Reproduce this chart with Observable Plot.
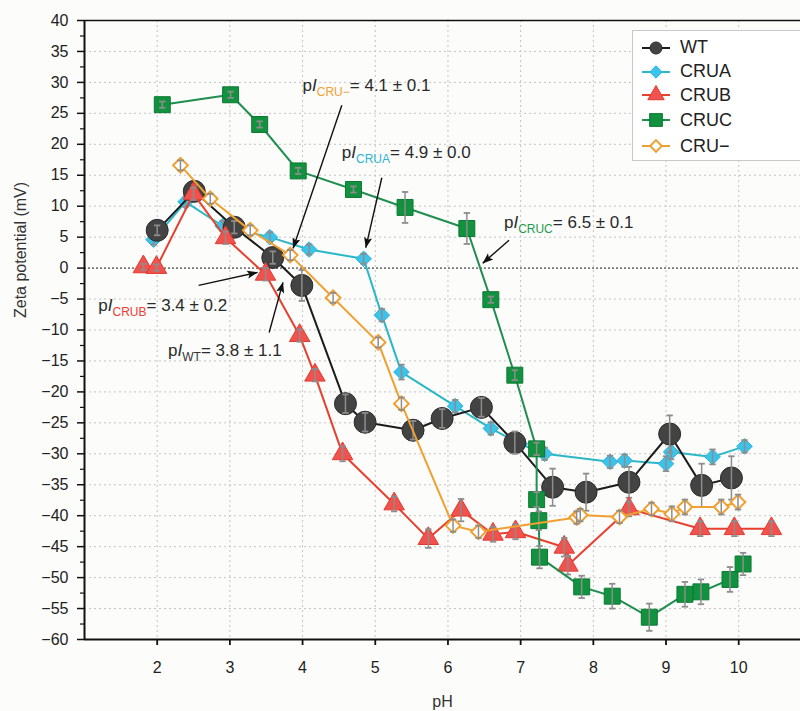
<!DOCTYPE html>
<html>
<head>
<meta charset="utf-8">
<script src="https://cdn.jsdelivr.net/npm/d3@7"></script>
<script src="https://cdn.jsdelivr.net/npm/@observablehq/plot@0.6"></script>
<style>
  body { margin: 0; background: #fcfcfa; font-family: "Liberation Sans", Arial, sans-serif; }
  #wrap { position: relative; width: 800px; height: 711px; overflow: hidden; }
  #legend { position: absolute; left: 632px; top: 30px; width: 190px; height: 131px; border: 1px solid #c8c8c8; background: #fff; box-sizing: border-box; }
  .row { position: absolute; left: 9px; height: 22px; display: flex; align-items: center; }
  .row span { margin-left: 10px; font-size: 18px; color: #222; }
</style>
</head>
<body>
<div id="wrap"><div id="legend"></div></div>
<script>
// ---------- data ----------
const seriesNames = ["WT", "CRUA", "CRUB", "CRUC", "CRU−"];

const wtPH   = [2.00, 2.51, 3.06, 3.59, 3.99, 4.59, 4.86, 5.52, 5.92, 6.46, 6.92, 7.44, 7.90, 8.49, 9.05, 9.49, 9.90];
const wtZeta = [6.1, 12.4, 6.6, 1.7, -2.8, -21.9, -24.9, -26.2, -24.3, -22.5, -28.2, -35.4, -36.2, -34.6, -26.8, -35.1, -33.9];
const wtErr  = [0.8, 1, 1, 1, 2.5, 1.5, 1.5, 1.5, 1.5, 1.5, 1.8, 3, 3, 2.5, 3, 3.5, 3.5];

const cruaPH   = [1.95, 2.39, 2.90, 3.55, 4.09, 4.84, 5.09, 5.36, 6.10, 6.59, 6.99, 7.33, 8.23, 8.43, 9.00, 9.07, 9.64, 10.08];
const cruaZeta = [4.6, 10.7, 6.8, 5.0, 3.0, 1.5, -7.6, -16.8, -22.3, -25.9, -28.4, -30.0, -31.3, -31.1, -31.6, -29.7, -30.5, -28.8];
const cruaErr  = [0.8, 0.8, 0.8, 0.8, 0.8, 0.8, 1, 1.2, 1, 1, 1, 1, 1, 1, 1.2, 1.2, 1.2, 1];

const crubPH   = [1.81, 1.99, 2.50, 2.94, 3.49, 3.96, 4.17, 4.55, 5.26, 5.73, 6.18, 6.62, 6.93, 7.60, 7.65, 8.49, 9.47, 9.94, 10.45];
const crubZeta = [0.2, 0.1, 12.0, 4.9, -1.0, -10.9, -17.3, -30.0, -38.1, -43.7, -39.1, -43.0, -42.6, -45.1, -48.0, -38.9, -42.1, -42.1, -42.1];
const crubErr  = [0.5, 0.5, 1, 1, 1, 1, 1, 1.2, 1.2, 1.5, 1.8, 1.2, 1.2, 1.5, 1.5, 1.2, 1.2, 1.2, 1.2];

const crucPH   = [2.07, 3.01, 3.41, 3.94, 4.70, 5.41, 6.26, 6.59, 6.92, 7.22, 7.22, 7.25, 7.26, 7.84, 8.26, 8.77, 9.26, 9.48, 9.88, 10.06];
const crucZeta = [26.4, 28.0, 23.2, 15.7, 12.7, 9.8, 6.4, -5.1, -17.3, -29.2, -37.4, -40.8, -46.7, -51.5, -53.0, -56.4, -52.7, -52.3, -50.3, -47.8];
const crucErr  = [0.5, 0.5, 0.5, 0.5, 0.5, 2.5, 2.5, 0.5, 0.8, 1, 1.2, 1.5, 1.8, 1.8, 2, 2.2, 2, 2, 2, 1.8];

const cruMPH   = [2.32, 2.73, 3.28, 3.83, 4.42, 5.04, 5.36, 6.07, 6.42, 7.77, 7.82, 8.36, 8.80, 9.08, 9.26, 9.76, 9.99];
const cruMZeta = [16.6, 11.2, 6.1, 2.1, -4.8, -12.0, -21.9, -41.6, -42.6, -40.3, -39.9, -40.2, -38.9, -39.7, -38.6, -38.6, -37.8];
const cruMErr  = [0.8, 0.8, 0.8, 0.8, 0.8, 0.8, 1, 1, 1, 1, 1, 1, 1, 1.2, 1.2, 1.2, 1.2];

// isoelectric point annotations
const pINames  = ["CRU−", "CRUA", "CRUC", "CRUB", "WT"];
const pIValues = ["4.1 ± 0.1", "4.9 ± 0.0", "6.5 ± 0.1", "3.4 ± 0.2", "3.8 ± 1.1"];
const pITextPH   = [4.00, 4.54, 6.77, 1.19, 2.15];
const pITextZeta = [29.5, 18.7, 7.4, -6.0, -13.3];
const pIFromPH   = [4.54, 5.09, 6.84, 2.57, 3.54];
const pIFromZeta = [26.3, 14.6, 4.5, -2.8, -10.4];
const pIToPH     = [3.87, 4.87, 6.48, 3.38, 3.73];
const pIToZeta   = [3.2, 3.3, 0.8, -0.7, -2.3];

const xTicks = [2, 3, 4, 5, 6, 7, 8, 9, 10];
const yTicks = [-60, -55, -50, -45, -40, -35, -30, -25, -20, -15, -10, -5, 0, 5, 10, 15, 20, 25, 30, 35, 40];

// ---------- styles ----------
const styles = {
  "WT":   {symbol: "circle",   r: 11,  fill: "#434343", stroke: "#2b2b2b", sw: 1, line: "#1c1c1c", sub: "#333333"},
  "CRUA": {symbol: "diamond2", r: 7,   fill: "#3cc3ea", stroke: "#2fb0dc", sw: 1, line: "#2ab7c6", sub: "#2cb3d6"},
  "CRUB": {symbol: "triangle", r: 7.6, fill: "#f2524d", stroke: "#e23a32", sw: 1, line: "#e8402f", sub: "#ee3b33"},
  "CRUC": {symbol: "square",   r: 9,   fill: "#12913f", stroke: "#0b7a33", sw: 1, line: "#1f8e50", sub: "#1f9a4e"},
  "CRU−": {symbol: "diamond2", r: 6.6, fill: "#ffffff", stroke: "#f0a030", sw: 2, line: "#f0a030", sub: "#f0a030"}
};
const seriesData = {
  "WT":   [wtPH, wtZeta, wtErr],
  "CRUA": [cruaPH, cruaZeta, cruaErr],
  "CRUB": [crubPH, crubZeta, crubErr],
  "CRUC": [crucPH, crucZeta, crucErr],
  "CRU−": [cruMPH, cruMZeta, cruMErr]
};

const capSymbol = { draw(ctx, size) { const w = Math.sqrt(size); ctx.moveTo(-w / 2, 0); ctx.lineTo(w / 2, 0); } };
const gridStyle = {stroke: "#c4c4c4", strokeOpacity: 1, strokeDasharray: "2,3", strokeWidth: 1};

function seriesMarks(name) {
  const [ph, z, e] = seriesData[name];
  const s = styles[name];
  const idx = d3.range(ph.length);
  return [
    Plot.line(idx, {x: i => ph[i], y: i => z[i], stroke: s.line, strokeWidth: 2}),
    Plot.dot(idx, {x: i => ph[i], y: i => z[i], symbol: s.symbol, r: s.r, fill: s.fill, stroke: s.stroke, strokeWidth: s.sw, fillOpacity: 1}),
    Plot.ruleX(idx, {x: i => ph[i], y1: i => z[i] - e[i], y2: i => z[i] + e[i], stroke: "#8d8d8d", strokeWidth: 1.5}),
    Plot.dot(idx, {x: i => ph[i], y: i => z[i] + e[i], symbol: capSymbol, r: 3.6, fill: "none", stroke: "#8d8d8d", strokeWidth: 1.8}),
    Plot.dot(idx, {x: i => ph[i], y: i => z[i] - e[i], symbol: capSymbol, r: 3.6, fill: "none", stroke: "#8d8d8d", strokeWidth: 1.8})
  ];
}

const pIIdx = d3.range(pINames.length);

const plot = Plot.plot({
  width: 800,
  height: 711,
  marginLeft: 84,
  marginRight: 0,
  marginTop: 20,
  marginBottom: 72,
  style: {fontFamily: '"Liberation Sans", Arial, sans-serif', fontSize: "16px", background: "transparent", color: "#222"},
  x: {domain: [1, 10.85]},
  y: {domain: [-60, 40]},
  marks: [
    Plot.gridY(yTicks.filter(v => v !== 0 && v !== -60 && v !== 40), gridStyle),
    Plot.gridX(xTicks, gridStyle),
    Plot.ruleY([0], {stroke: "#7a7a7a", strokeDasharray: "2,2", strokeWidth: 1.6}),
    Plot.axisY(yTicks, {tickSize: 7, tickPadding: 9, fontSize: 16, label: null, stroke: "#111", strokeWidth: 1.5}),
    Plot.axisY(d3.range(-57.5, 40, 5), {tickSize: 4, tickFormat: () => "", label: null, stroke: "#111", strokeWidth: 1.2}),
    Plot.axisX(xTicks, {tickSize: 6, tickPadding: 16, fontSize: 16, label: null, stroke: "#111", strokeWidth: 1.8}),
    Plot.ruleY([-60], {stroke: "#111", strokeWidth: 2}),
    Plot.ruleY([40], {stroke: "#111", strokeWidth: 1.6}),
    Plot.ruleX([1], {stroke: "#111", strokeWidth: 2}),
    Plot.text(["pH"], {frameAnchor: "bottom", dy: 67, fontSize: 16, fill: "#333"}),
    Plot.text(["Zeta potential (mV)"], {frameAnchor: "left", dx: -64, dy: -12, rotate: -90, fontSize: 16, fill: "#333"}),
    ...seriesMarks("CRUA"),
    ...seriesMarks("WT"),
    ...seriesMarks("CRUB"),
    ...seriesMarks("CRUC"),
    ...seriesMarks("CRU−"),
    Plot.link(pIIdx, {x1: i => pIFromPH[i], y1: i => pIFromZeta[i], x2: i => pIToPH[i], y2: i => pIToZeta[i], stroke: "#111", strokeWidth: 1.4}),
    Plot.text(pIIdx, {x: i => pITextPH[i], y: i => pITextZeta[i], text: i => "pI" + pINames[i] + "= " + pIValues[i], textAnchor: "start", fontSize: 17, fill: "#2a2a2a"})
  ]
});

const wrap = document.getElementById("wrap");
wrap.insertBefore(plot, wrap.firstChild);
plot.style.position = "absolute";
plot.style.left = "0px";
plot.style.top = "0px";

// arrowheads
const svg = d3.select(plot.tagName.toLowerCase() === "svg" ? plot : plot.querySelector("svg"));
const defs = svg.insert("defs", ":first-child");
defs.append("marker")
  .attr("id", "ahead").attr("viewBox", "0 0 12 10").attr("refX", 11.5).attr("refY", 5)
  .attr("markerWidth", 12).attr("markerHeight", 9).attr("markerUnits", "userSpaceOnUse").attr("orient", "auto")
  .append("path").attr("d", "M0,0.5 L12,5 L0,9.5 L2.5,5 z").attr("fill", "#111");
svg.selectAll('g[aria-label="link"] path').attr("marker-end", "url(#ahead)");

// rich annotation text: p + italic I + coloured subscript + value
svg.selectAll("text").each(function () {
  const content = this.textContent;
  const i = pINames.findIndex((n, k) => content === "pI" + n + "= " + pIValues[k]);
  if (i < 0) return;
  const t = d3.select(this);
  t.selectAll("*").remove();
  t.text(null);
  t.append("tspan").text("p");
  t.append("tspan").attr("font-style", "italic").text("I");
  t.append("tspan").attr("font-size", 12).attr("dy", 5).attr("fill", styles[pINames[i]].sub).text(pINames[i]);
  t.append("tspan").attr("dy", -5).text("= " + pIValues[i]);
});

// legend
const legend = document.getElementById("legend");
const rowTops = [5.5, 29.5, 53, 78.3, 104];
const symMap = {circle: d3.symbolCircle, diamond2: d3.symbolDiamond2, triangle: d3.symbolTriangle, square: d3.symbolSquare};
seriesNames.forEach((name, k) => {
  const s = styles[name];
  const row = document.createElement("div");
  row.className = "row";
  row.style.top = rowTops[k] + "px";
  const sv = d3.create("svg").attr("width", 28).attr("height", 22);
  sv.append("line").attr("x1", 0).attr("x2", 28).attr("y1", 11).attr("y2", 11).attr("stroke", s.line).attr("stroke-width", 2);
  const scale = name === "WT" ? 0.55 : 0.8;
  sv.append("path").attr("transform", "translate(14,11)")
    .attr("d", d3.symbol(symMap[s.symbol], Math.PI * (s.r * scale) ** 2)())
    .attr("fill", s.fill).attr("stroke", s.stroke).attr("stroke-width", s.sw);
  row.appendChild(sv.node());
  const sp = document.createElement("span");
  sp.textContent = name;
  row.appendChild(sp);
  legend.appendChild(row);
});
</script>
</body>
</html>
